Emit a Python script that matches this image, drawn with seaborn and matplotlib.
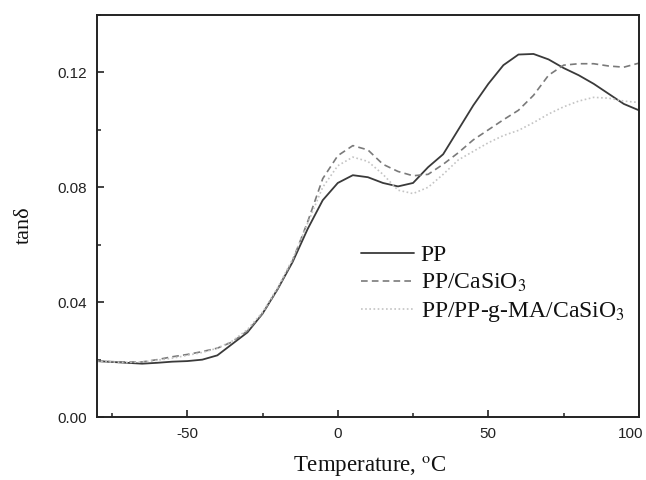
import numpy as np
import pandas as pd
import matplotlib
matplotlib.use("Agg")
import matplotlib.pyplot as plt
import matplotlib.transforms as mtransforms
import seaborn as sns
from matplotlib.ticker import MultipleLocator

temperature = list(range(-80, 101, 5))

pp = [0.0195, 0.0192, 0.0189, 0.0186, 0.0189, 0.0193, 0.0195, 0.0200, 0.0215,
      0.0255, 0.0295, 0.0360, 0.0445, 0.0540, 0.0655, 0.0755, 0.0815, 0.0842,
      0.0835, 0.0815, 0.0803, 0.0815, 0.0870, 0.0915, 0.1000, 0.1085, 0.1160,
      0.1225, 0.1262, 0.1264, 0.1245, 0.1215, 0.1190, 0.1160, 0.1125, 0.1090,
      0.1068]

pp_casio3 = [0.0195, 0.0193, 0.0192, 0.0192, 0.0200, 0.0210, 0.0218, 0.0228,
             0.0240, 0.0262, 0.0300, 0.0360, 0.0445, 0.0545, 0.0680, 0.0830,
             0.0910, 0.0945, 0.0930, 0.0880, 0.0855, 0.0840, 0.0845, 0.0880,
             0.0920, 0.0965, 0.1000, 0.1035, 0.1068, 0.1120, 0.1190, 0.1225,
             0.1230, 0.1230, 0.1222, 0.1218, 0.1232]

pp_ma_casio3 = [0.0195, 0.0192, 0.0190, 0.0192, 0.0198, 0.0205, 0.0215, 0.0225,
                0.0240, 0.0265, 0.0305, 0.0365, 0.0450, 0.0550, 0.0675, 0.0800,
                0.0875, 0.0905, 0.0890, 0.0845, 0.0790, 0.0778, 0.0800, 0.0845,
                0.0895, 0.0925, 0.0955, 0.0980, 0.0998, 0.1025, 0.1055, 0.1080,
                0.1100, 0.1113, 0.1110, 0.1100, 0.1095]

labels = ["PP", "PP/CaSiO$_3$", "PP/PP-g-MA/CaSiO$_3$"]
x_ticks = [-50, 0, 50, 100]
y_ticks = [0.00, 0.04, 0.08, 0.12]

sns.set_style("ticks")
plt.rcParams['font.family'] = ['Liberation Sans', 'DejaVu Sans']
plt.rcParams['mathtext.fontset'] = 'stix'

df = pd.DataFrame({
    "T": temperature * 3,
    "tan": pp + pp_casio3 + pp_ma_casio3,
    "sample": [labels[0]] * len(temperature) + [labels[1]] * len(temperature)
              + [labels[2]] * len(temperature),
})

fig = plt.figure(figsize=(6.46, 4.8), dpi=100)
ax = fig.add_axes([0.150, 0.131, 0.839, 0.838])

styles = {labels[0]: dict(color="#3a3a3a", ls="-", lw=1.3),
          labels[1]: dict(color="#7a7a7a", ls=(0, (4, 2.5)), lw=1.2),
          labels[2]: dict(color="#c4c4c4", ls=(0, (1, 1.5)), lw=1.2)}

for lab in labels:
    sub = df[df["sample"] == lab]
    st = styles[lab]
    sns.lineplot(data=sub, x="T", y="tan", ax=ax, label=lab, color=st["color"],
                 linestyle=st["ls"], linewidth=st["lw"])

ax.set_xlim(-80, 100)
ax.set_ylim(0, 0.14)
ax.set_xticks(x_ticks)
ax.set_yticks(y_ticks)
ax.set_xticklabels(["-50", "0", "50", "100"])
ax.set_yticklabels(["0.00", "0.04", "0.08", "0.12"])
ax.xaxis.set_minor_locator(MultipleLocator(25))
ax.yaxis.set_minor_locator(MultipleLocator(0.02))
ax.tick_params(which="major", direction="in", length=5, width=1.2, labelsize=11,
               colors="#222222", pad=7)
ax.tick_params(which="minor", direction="in", length=3, width=1.1, colors="#222222")
for sp in ax.spines.values():
    sp.set_linewidth(1.4)
    sp.set_color("#222222")

# keep the last x tick label inside the figure, as in the reference
last = ax.get_xticklabels()[-1]
last.set_transform(last.get_transform() +
                   mtransforms.ScaledTranslation(-8 / 100, 0, fig.dpi_scale_trans))

ax.set_xlabel("Temperature, $^{\\mathrm{o}}$C", family=["Liberation Serif"], fontsize=16.5,
              color="#111111")
ax.xaxis.set_label_coords(0.503, -0.124)
ax.xaxis.label.set_va("center")
ax.set_ylabel("tan\u03b4", family=["Liberation Serif", "DejaVu Serif"], fontsize=16,
              color="#111111")
ax.yaxis.set_label_coords(-0.134, 0.477)
ax.yaxis.label.set_va("center")

leg = ax.legend(loc="upper left", bbox_to_anchor=(0.469, 0.453), frameon=False,
                prop={"family": "Liberation Serif", "size": 17}, handlelength=2.25,
                labelspacing=0.25, handletextpad=0.3, borderaxespad=0)
for t in leg.get_texts():
    t.set_color("#111111")

fig.savefig("out.png", dpi=100)
